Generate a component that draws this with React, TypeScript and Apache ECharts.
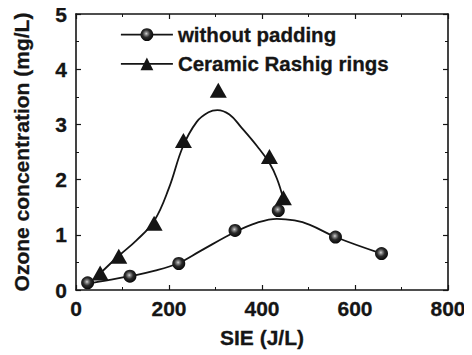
import React, { useEffect, useRef } from "react";
import * as echarts from "echarts";

const sieWithout = [25, 116, 221, 342, 435, 558, 657];
const ozoneWithout = [0.13, 0.25, 0.48, 1.08, 1.44, 0.96, 0.66];
const sieCeramic = [52, 92, 168, 231, 306, 416, 446];
const ozoneCeramic = [0.31, 0.61, 1.21, 2.71, 3.62, 2.42, 1.67];

const fitXWithout = [25, 70, 116, 170, 221, 266, 342, 390, 432, 470, 503, 558, 657];
const fitYWithout = [0.12, 0.18, 0.25, 0.35, 0.49, 0.70, 1.05, 1.22, 1.29, 1.26, 1.18, 0.96, 0.66];
const fitXCeramic = [52, 92, 130, 168, 200, 230, 260, 285, 304, 330, 355, 390, 416, 432, 446];
const fitYCeramic = [0.30, 0.62, 0.90, 1.25, 1.85, 2.60, 3.05, 3.22, 3.26, 3.18, 2.95, 2.60, 2.30, 2.02, 1.65];

const xTicks = [0, 200, 400, 600, 800];
const yTicks = [0, 1, 2, 3, 4, 5];

const zip = (a: number[], b: number[]) => a.map((v, i) => [v, b[i]]);

export default function App() {
  const ref = useRef<HTMLDivElement>(null);
  useEffect(() => {
    if (!ref.current) return;
    const chart = echarts.init(ref.current, null, { renderer: "svg" });
    const font = "'Liberation Sans', Arial, sans-serif";
    const ink = "#151515";
    const sphere = new echarts.graphic.RadialGradient(0.45, 0.42, 0.6, [
      { offset: 0, color: "#d8d8d8" },
      { offset: 0.18, color: "#8a8a8a" },
      { offset: 0.5, color: "#2a2a2a" },
      { offset: 1, color: "#050505" },
    ]);
    const axisCommon = {
      axisLine: { show: true, onZero: false, lineStyle: { color: ink, width: 1.6 } },
      axisTick: { show: true, inside: true, length: 5, lineStyle: { color: ink, width: 1.2 } },
      minorTick: { show: true, splitNumber: 2, length: 3, lineStyle: { color: ink, width: 1 } },
      splitLine: { show: false },
      minorSplitLine: { show: false },
    };
    const boldText = {
      fontFamily: font,
      fontWeight: "bold",
      fontSize: 21,
      color: ink,
      textBorderColor: ink,
      textBorderWidth: 0.3,
    };
    chart.setOption({
      animation: false,
      backgroundColor: "#ffffff",
      grid: { left: 76, right: 24, top: 14, bottom: 65, containLabel: false },
      legend: {
        orient: "vertical",
        left: 115,
        top: 19,
        itemWidth: 52,
        itemHeight: 16,
        itemGap: 8,
        textStyle: { ...boldText, fontSize: 20.5 },
        data: [
          { name: "without padding", lineStyle: { color: ink, width: 1.8, opacity: 1 } },
          { name: "Ceramic Rashig rings", lineStyle: { color: ink, width: 1.8, opacity: 1 } },
        ],
      },
      xAxis: [
        {
          type: "value",
          min: 0,
          max: 800,
          interval: 200,
          position: "bottom",
          name: "SIE (J/L)",
          nameLocation: "middle",
          nameGap: 37,
          nameTextStyle: { ...boldText },
          axisLabel: { ...boldText, margin: 8 },
          ...axisCommon,
        },
        {
          type: "value",
          min: 0,
          max: 800,
          interval: 200,
          position: "top",
          axisLabel: { show: false },
          ...axisCommon,
        },
      ],
      yAxis: [
        {
          type: "value",
          min: 0,
          max: 5,
          interval: 1,
          position: "left",
          name: "Ozone concentration (mg/L)",
          nameLocation: "middle",
          nameGap: 44,
          nameTextStyle: { ...boldText },
          axisLabel: { ...boldText, margin: 9 },
          ...axisCommon,
        },
        {
          type: "value",
          min: 0,
          max: 5,
          interval: 1,
          position: "right",
          axisLabel: { show: false },
          ...axisCommon,
        },
      ],
      series: [
        {
          name: "fit without",
          type: "line",
          data: zip(fitXWithout, fitYWithout),
          smooth: 0.4,
          showSymbol: false,
          symbol: "none",
          lineStyle: { color: ink, width: 1.8 },
          z: 2,
          silent: true,
        },
        {
          name: "fit ceramic",
          type: "line",
          data: zip(fitXCeramic, fitYCeramic),
          smooth: 0.4,
          showSymbol: false,
          symbol: "none",
          lineStyle: { color: ink, width: 1.8 },
          z: 2,
          silent: true,
        },
        {
          name: "without padding",
          type: "line",
          data: zip(sieWithout, ozoneWithout),
          symbol: "circle",
          symbolSize: 13,
          showAllSymbol: true,
          itemStyle: { color: sphere, borderWidth: 0 },
          lineStyle: { opacity: 0, width: 0 },
          z: 5,
        },
        {
          name: "Ceramic Rashig rings",
          type: "line",
          data: zip(sieCeramic, ozoneCeramic),
          symbol: "triangle",
          symbolSize: [17, 15],
          showAllSymbol: true,
          itemStyle: { color: ink, borderWidth: 0 },
          lineStyle: { opacity: 0, width: 0 },
          z: 5,
        },
      ],
    });
    return () => chart.dispose();
  }, []);
  return <div ref={ref} style={{ width: 472, height: 355, marginLeft: -8, marginTop: -8 }} />;
}
